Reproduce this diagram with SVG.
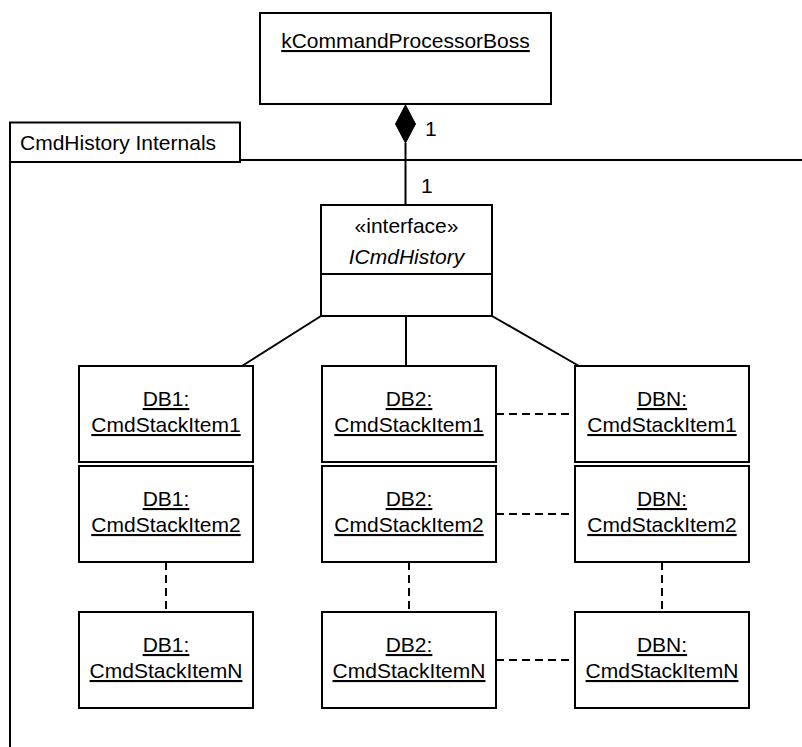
<svg xmlns="http://www.w3.org/2000/svg" width="802" height="747" viewBox="0 0 802 747">
  <style>
    .box { fill: #fff; stroke: #000; stroke-width: 2; }
    .ln { fill: none; stroke: #000; stroke-width: 2; }
    .dash { fill: none; stroke: #000; stroke-width: 2; stroke-dasharray: 8 5; }
    text { font-family: "Liberation Sans", Arial, sans-serif; font-size: 21px; fill: #000; }
    .c { text-anchor: middle; }
    .u { text-decoration: underline; }
    .i { font-style: italic; }
  </style>
  <rect width="802" height="747" fill="#fff"/>

  <!-- frame: CmdHistory Internals -->
  <g id="frame">
    <rect class="box" x="10" y="122.5" width="230" height="39.5"/>
    <line class="ln" x1="240" y1="160" x2="802" y2="160"/>
    <line class="ln" x1="10" y1="162" x2="10" y2="747"/>
    <text x="20" y="149.5">CmdHistory Internals</text>
  </g>

  <!-- connectors -->
  <g id="connectors">
    <line class="ln" x1="405.5" y1="143" x2="405.5" y2="205"/>
    <polygon points="405.5,105 415.5,124 405.5,143 395.5,124" fill="#000" stroke="#000" stroke-width="1"/>
    <text x="425" y="135.5">1</text>
    <text x="421" y="192.5">1</text>
    <line class="ln" x1="321" y1="316" x2="242" y2="366"/>
    <line class="ln" x1="406" y1="316" x2="406" y2="366"/>
    <line class="ln" x1="492" y1="316" x2="579" y2="366"/>
    <line class="dash" x1="496" y1="414" x2="575" y2="414"/>
    <line class="dash" x1="496" y1="514" x2="575" y2="514"/>
    <line class="dash" x1="496" y1="660" x2="575" y2="660"/>
    <line class="dash" x1="166" y1="562" x2="166" y2="612"/>
    <line class="dash" x1="409" y1="562" x2="409" y2="612"/>
    <line class="dash" x1="662" y1="562" x2="662" y2="612"/>
  </g>

  <g id="kCommandProcessorBoss">
    <rect class="box" x="260" y="13" width="291" height="91"/>
    <text class="c u" x="405.5" y="48">kCommandProcessorBoss</text>
  </g>

  <g id="ICmdHistory">
    <rect class="box" x="321" y="205" width="171" height="111"/>
    <line class="ln" x1="321" y1="274" x2="492" y2="274"/>
    <text class="c" x="406.5" y="233">«interface»</text>
    <text class="c i" x="406.5" y="264">ICmdHistory</text>
  </g>

  <g id="db1-item1">
    <rect class="box" x="79" y="366" width="174" height="96"/>
    <text class="c u" x="166" y="406">DB1:</text>
    <text class="c u" x="166" y="432">CmdStackItem1</text>
  </g>
  <g id="db1-item2">
    <rect class="box" x="79" y="466" width="174" height="96"/>
    <text class="c u" x="166" y="506">DB1:</text>
    <text class="c u" x="166" y="532">CmdStackItem2</text>
  </g>
  <g id="db1-itemN">
    <rect class="box" x="79" y="612" width="174" height="96"/>
    <text class="c u" x="166" y="652">DB1:</text>
    <text class="c u" x="166" y="678">CmdStackItemN</text>
  </g>

  <g id="db2-item1">
    <rect class="box" x="322" y="366" width="174" height="96"/>
    <text class="c u" x="409" y="406">DB2:</text>
    <text class="c u" x="409" y="432">CmdStackItem1</text>
  </g>
  <g id="db2-item2">
    <rect class="box" x="322" y="466" width="174" height="96"/>
    <text class="c u" x="409" y="506">DB2:</text>
    <text class="c u" x="409" y="532">CmdStackItem2</text>
  </g>
  <g id="db2-itemN">
    <rect class="box" x="322" y="612" width="174" height="96"/>
    <text class="c u" x="409" y="652">DB2:</text>
    <text class="c u" x="409" y="678">CmdStackItemN</text>
  </g>

  <g id="dbn-item1">
    <rect class="box" x="575" y="366" width="174" height="96"/>
    <text class="c u" x="662" y="406">DBN:</text>
    <text class="c u" x="662" y="432">CmdStackItem1</text>
  </g>
  <g id="dbn-item2">
    <rect class="box" x="575" y="466" width="174" height="96"/>
    <text class="c u" x="662" y="506">DBN:</text>
    <text class="c u" x="662" y="532">CmdStackItem2</text>
  </g>
  <g id="dbn-itemN">
    <rect class="box" x="575" y="612" width="174" height="96"/>
    <text class="c u" x="662" y="652">DBN:</text>
    <text class="c u" x="662" y="678">CmdStackItemN</text>
  </g>
</svg>
